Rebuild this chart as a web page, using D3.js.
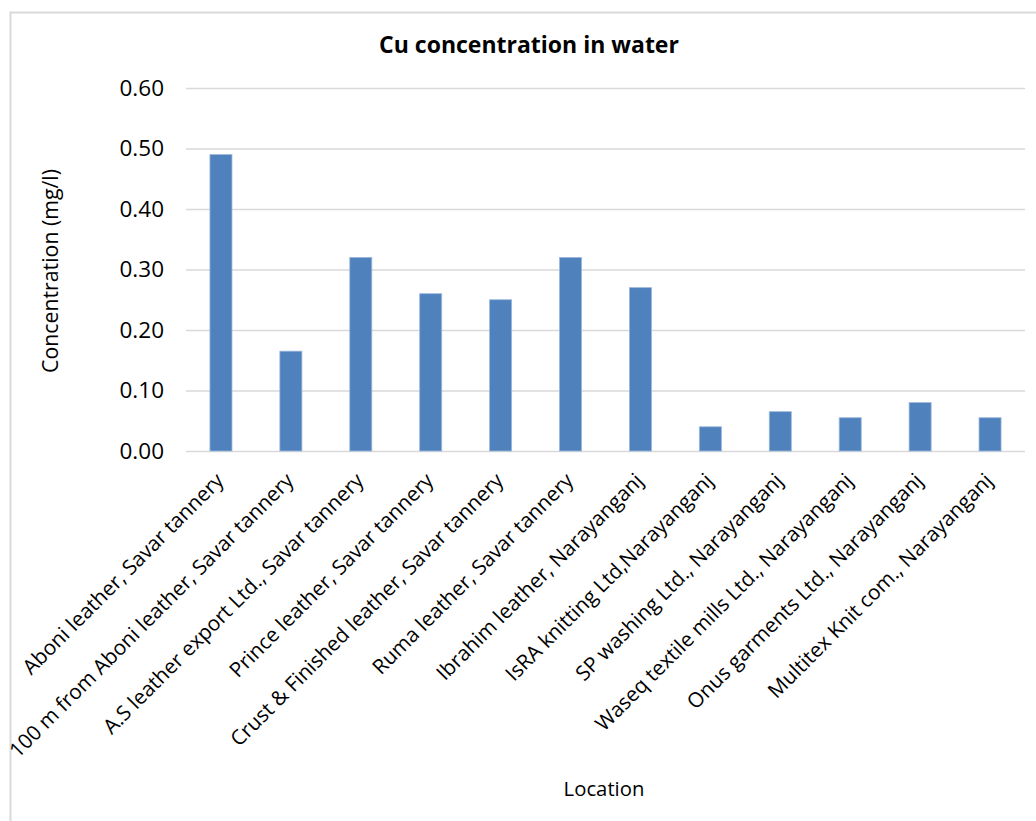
<!DOCTYPE html>
<html>
<head>
<meta charset="utf-8">
<script src="https://cdn.jsdelivr.net/npm/d3@7"></script>
<style>
  html, body { margin: 0; padding: 0; background: #fff; }
  svg { display: block; font-family: "Open Sans", sans-serif; }
</style>
</head>
<body>
<svg id="chart" width="1036" height="821"></svg>
<script>
// Sampling locations and measured Cu concentration (mg/l)
const locations = [
  "Aboni leather, Savar tannery",
  "100 m from Aboni leather, Savar tannery",
  "A.S leather export Ltd., Savar tannery",
  "Prince leather, Savar tannery",
  "Crust & Finished leather, Savar tannery",
  "Ruma leather, Savar tannery",
  "Ibrahim leather, Narayanganj",
  "IsRA knitting Ltd,Narayanganj",
  "SP washing Ltd., Narayanganj",
  "Waseq textile mills Ltd., Narayanganj",
  "Onus garments Ltd., Narayanganj",
  "Multitex Knit com., Narayanganj"
];
const cuValues = [0.49, 0.165, 0.32, 0.26, 0.25, 0.32, 0.27, 0.04, 0.065, 0.055, 0.08, 0.055];
const yTicks = [0, 0.1, 0.2, 0.3, 0.4, 0.5, 0.6];

const titleText = "Cu concentration in water";
const yTitle = "Concentration (mg/l)";
const xTitle = "Location";

const svg = d3.select("#chart");
const plot = { left: 186, right: 1025, top: 88, bottom: 451 };

// Chart frame
svg.append("rect")
  .attr("x", 10.5).attr("y", 12.5)
  .attr("width", 1040).attr("height", 820)
  .attr("fill", "none")
  .attr("stroke", "#d9d9d9")
  .attr("stroke-width", 2);

const x = d3.scaleBand()
  .domain(locations)
  .range([plot.left, plot.right])
  .paddingInner(0.685)
  .paddingOuter(0.3425);

const y = d3.scaleLinear()
  .domain([0, 0.6])
  .range([plot.bottom, plot.top]);

// Horizontal gridlines with value labels
const yAxis = d3.axisLeft(y)
  .tickValues(yTicks)
  .tickFormat(d3.format(".2f"))
  .tickSize(-(plot.right - plot.left))
  .tickPadding(22);

const gy = svg.append("g")
  .attr("transform", `translate(${plot.left},0)`)
  .call(yAxis);
gy.select(".domain").remove();
gy.selectAll(".tick line")
  .attr("stroke", "#d9d9d9")
  .attr("stroke-width", 1.5);
gy.selectAll(".tick text")
  .attr("fill", "#000")
  .style("font-size", "22.5px")
  .style("font-family", "'Open Sans', sans-serif");

// Bars
svg.append("g")
  .selectAll("rect")
  .data(cuValues)
  .join("rect")
  .attr("x", (d, i) => x(locations[i]))
  .attr("y", d => y(d))
  .attr("width", x.bandwidth())
  .attr("height", d => y(0) - y(d))
  .attr("fill", "#4f81bd")
  .attr("stroke", "#9bb7dc")
  .attr("stroke-width", 0.8);

// Category labels, rotated
const xAxis = d3.axisBottom(x).tickSize(0).tickPadding(0);
const gx = svg.append("g")
  .attr("transform", `translate(0,${plot.bottom})`)
  .call(xAxis);
gx.select(".domain").remove();
gx.selectAll(".tick text")
  .attr("fill", "#000")
  .style("font-size", "20.7px")
  .style("font-family", "'Open Sans', sans-serif")
  .attr("text-anchor", "end")
  .attr("dy", null)
  .attr("y", null)
  .attr("transform", "translate(4,31) rotate(-45)");

// Titles
svg.append("text")
  .attr("x", 529).attr("y", 53)
  .attr("text-anchor", "middle")
  .style("font-size", "23px")
  .style("font-weight", "bold")
  .text(titleText);

svg.append("text")
  .attr("transform", "translate(58,271) rotate(-90)")
  .attr("text-anchor", "middle")
  .style("font-size", "21.3px")
  .text(yTitle);

svg.append("text")
  .attr("x", 604).attr("y", 796)
  .attr("text-anchor", "middle")
  .style("font-size", "20.3px")
  .text(xTitle);
</script>
</body>
</html>
